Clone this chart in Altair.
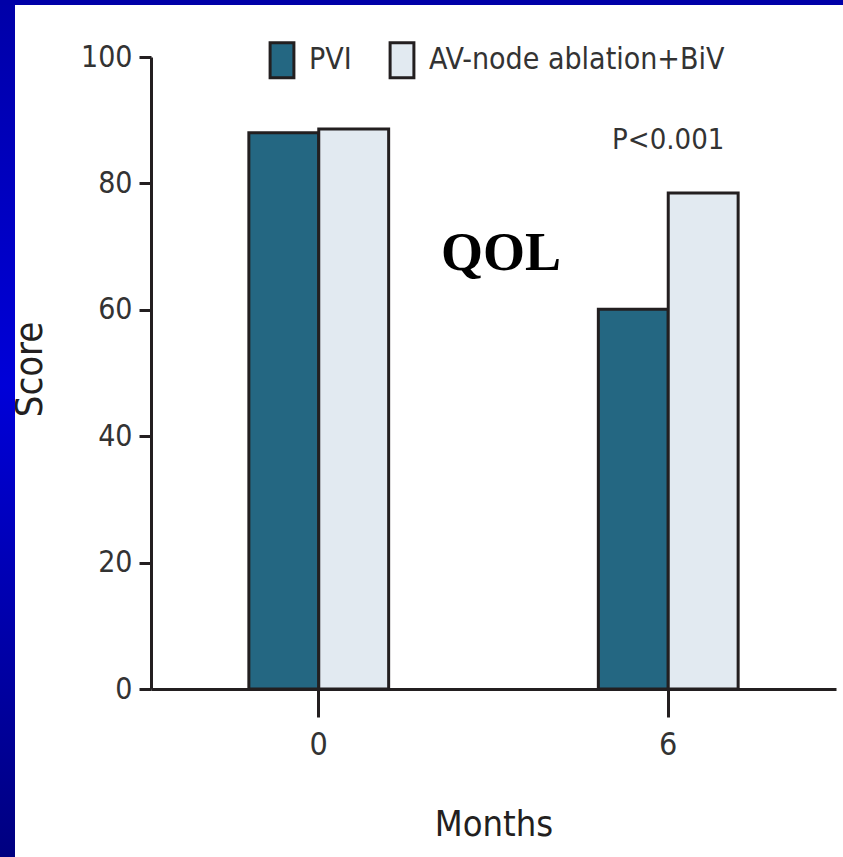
import altair as alt
import pandas as pd

months = ["0", "0", "6", "6"]
groups = ["PVI", "AV-node ablation+BiV", "PVI", "AV-node ablation+BiV"]
scores = [88.0, 88.6, 60.1, 78.5]
series_order = ["PVI", "AV-node ablation+BiV"]
series_colors = ["#246782", "#E2EAF1"]
y_ticks = [0, 20, 40, 60, 80, 100]

df = pd.DataFrame({"Months": months, "Group": groups, "Score": scores})

NARROW = "Liberation Sans Narrow, Arial Narrow, DejaVu Sans Condensed, sans-serif"
INK = "#231F20"

W, H = 685, 632
PAD_L, PAD_T, PAD_R, PAD_B = 151, 57, 7, 168

x_scale = alt.Scale(domain=["0", "6"], paddingInner=0.6, paddingOuter=0.28)
y_scale = alt.Scale(domain=[0, 100], nice=False)

bars = alt.Chart(df).mark_bar(stroke=INK, strokeWidth=3).encode(
    x=alt.X("Months:N", scale=x_scale,
            axis=alt.Axis(title="Months", labelAngle=0, tickSize=28, tickWidth=3,
                          tickColor=INK, domainColor=INK, domainWidth=3,
                          labelPadding=12, labelFontSize=32, labelFont=NARROW,
                          labelColor="#333333", titleFont=NARROW, titleFontSize=36,
                          titleFontWeight="normal", titleColor=INK,
                          titleY=135, titleBaseline="middle")),
    xOffset=alt.XOffset("Group:N", sort=series_order, scale=alt.Scale(paddingInner=0)),
    y=alt.Y("Score:Q", scale=y_scale,
            axis=alt.Axis(title="Score", values=y_ticks, tickSize=12, tickWidth=3,
                          tickColor=INK, domainColor=INK, domainWidth=3,
                          labelPadding=7, labelFontSize=30, labelFont=NARROW,
                          labelColor="#333333", grid=False,
                          titleFont=NARROW, titleFontSize=38,
                          titleFontWeight="normal", titleColor=INK,
                          titleX=-121, titleY=312, titleAngle=-90,
                          titleAlign="center", titleBaseline="middle")),
    fill=alt.Fill("Group:N", sort=series_order,
                  scale=alt.Scale(domain=series_order, range=series_colors),
                  legend=alt.Legend(title=None, orient="none", direction="horizontal",
                                    legendX=112, legendY=-16,
                                    symbolType="M-0.68,-1H0.68V1H-0.68Z",
                                    symbolSize=1225, symbolStrokeColor=INK,
                                    symbolStrokeWidth=3, symbolOpacity=1,
                                    labelFont=NARROW, labelFontSize=30,
                                    labelColor="#333333", labelOffset=8,
                                    columnPadding=31, labelLimit=400)),
)

p_df = pd.DataFrame({"Months": ["6"], "Score": [86.8], "label": ["P<0.001"]})
p_text = alt.Chart(p_df).mark_text(font=NARROW, fontSize=29, color="#333333",
                                   baseline="middle", align="center").encode(
    x=alt.X("Months:N", scale=x_scale),
    y=alt.Y("Score:Q", scale=y_scale),
    text="label:N",
)

q_df = pd.DataFrame({"Score": [68.8], "label": ["QOL"]})
q_text = alt.Chart(q_df).mark_text(font="Liberation Serif, Times New Roman, serif",
                                   fontSize=54, fontWeight="bold", color="black",
                                   baseline="middle", align="center").encode(
    x=alt.value(350),
    y=alt.Y("Score:Q", scale=y_scale),
    text="label:N",
)

frame_df = pd.DataFrame({"k": [0]})
left_border = alt.Chart(frame_df).mark_rect(
    fill=alt.LinearGradient(gradient="linear", x1=0, x2=0, y1=0, y2=1,
                            stops=[alt.GradientStop(offset=0, color="#0000A8"),
                                   alt.GradientStop(offset=0.45, color="#0000D8"),
                                   alt.GradientStop(offset=1, color="#000080")])
).encode(x=alt.value(-PAD_L), x2=alt.value(-PAD_L + 15),
         y=alt.value(-PAD_T), y2=alt.value(H + PAD_B))
top_border = alt.Chart(frame_df).mark_rect(color="#0000A8").encode(
    x=alt.value(-PAD_L), x2=alt.value(W + PAD_R),
    y=alt.value(-PAD_T), y2=alt.value(-PAD_T + 5))

chart = alt.layer(bars, p_text, q_text, left_border, top_border).properties(
    width=W, height=H,
    autosize=alt.AutoSizeParams(type="none"),
    padding={"left": PAD_L, "top": PAD_T, "right": PAD_R, "bottom": PAD_B},
    background="white",
).configure_view(stroke=None)

chart.save("out.html", embed_options={"renderer": "svg", "actions": False})
